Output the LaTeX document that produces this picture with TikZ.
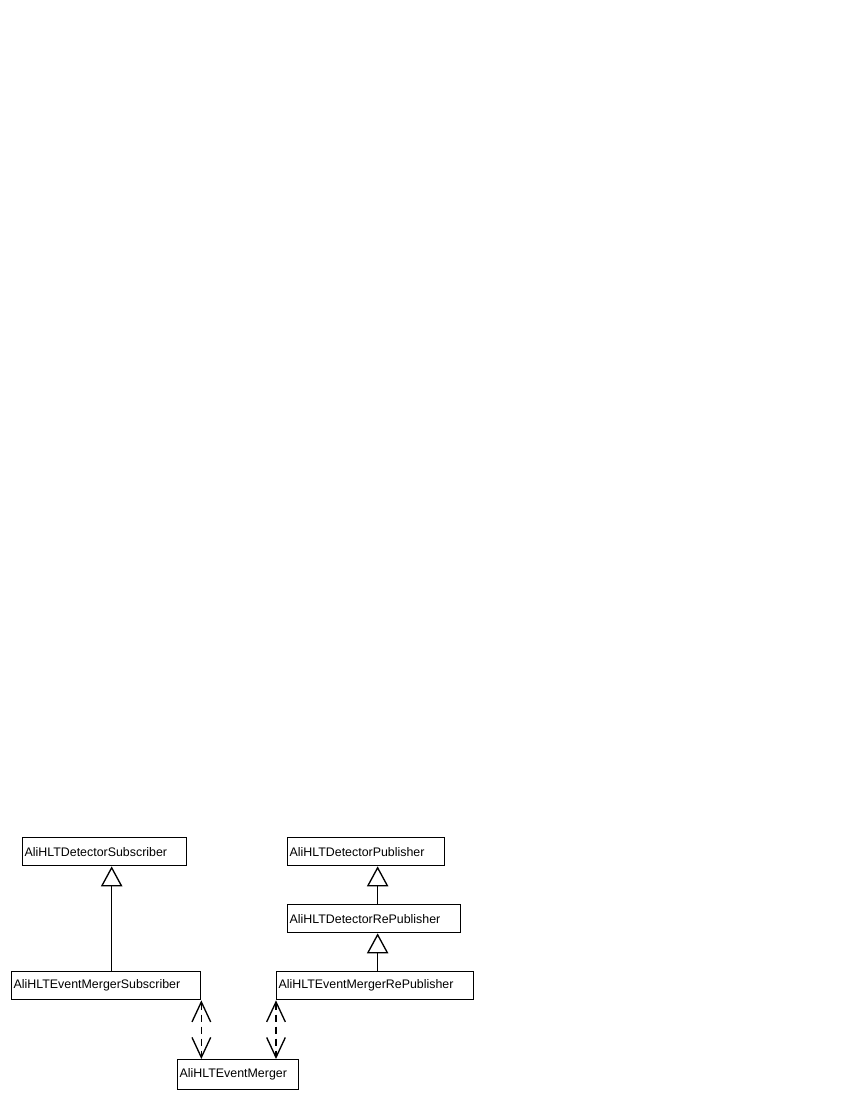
\documentclass[tikz,border=0pt]{standalone}
\usepackage{fontspec}
\setmainfont{Liberation Sans}
\usetikzlibrary{arrows.meta,positioning}

\begin{document}
\begin{tikzpicture}
    [
        x=0.75pt, y=-0.75pt,
        classbox/.style={rectangle, draw=black, line width=1pt, font=\fontsize{9.3}{10}\selectfont, align=left, inner xsep=1.5pt, inner ysep=0pt, minimum height=21pt, anchor=north west},
        inherit/.style={line width=1pt, -{Triangle[open, length=15pt, width=16pt, line width=1pt]}},
        depend/.style={line width=1pt, dash pattern=on 5.25pt off 3.75pt, {Straight Barb[length=15pt, width=14pt, line width=1pt]}-{Straight Barb[length=15pt, width=14pt, line width=1pt]}},
    ]
    \useasboundingbox (0,0) rectangle (850,1100);

    \node [classbox, text width=120pt] (detsub) at (22,837) {AliHLTDetectorSubscriber};
    \node [classbox, text width=138.75pt] (emsub) at (11,971) {AliHLTEventMergerSubscriber};
    \node [classbox, text width=114.75pt] (detpub) at (287,837) {AliHLTDetectorPublisher};
    \node [classbox, text width=126.75pt] (detrepub) at (287,904) {AliHLTDetectorRePublisher};
    \node [classbox, text width=144.75pt] (emrepub) at (276,971) {AliHLTEventMergerRePublisher};
    \node [classbox, text width=87.75pt, minimum height=22.5pt] (merger) at (177,1059) {AliHLTEventMerger};

    \draw[inherit] ([xshift=5.25pt]detsub.south |- emsub.north) -- ([xshift=5.25pt]detsub.south);
    \draw[inherit] ([xshift=8.6pt]detpub.south |- detrepub.north) -- ([xshift=8.6pt]detpub.south);
    \draw[inherit] ([xshift=8.6pt]detpub.south |- emrepub.north) -- ([xshift=8.6pt]detpub.south |- detrepub.south);

    \draw[depend] (emsub.south east) -- (emsub.south east |- merger.north);
    \draw[depend] (emrepub.south west) -- (emrepub.south west |- merger.north);

\end{tikzpicture}
\end{document}
